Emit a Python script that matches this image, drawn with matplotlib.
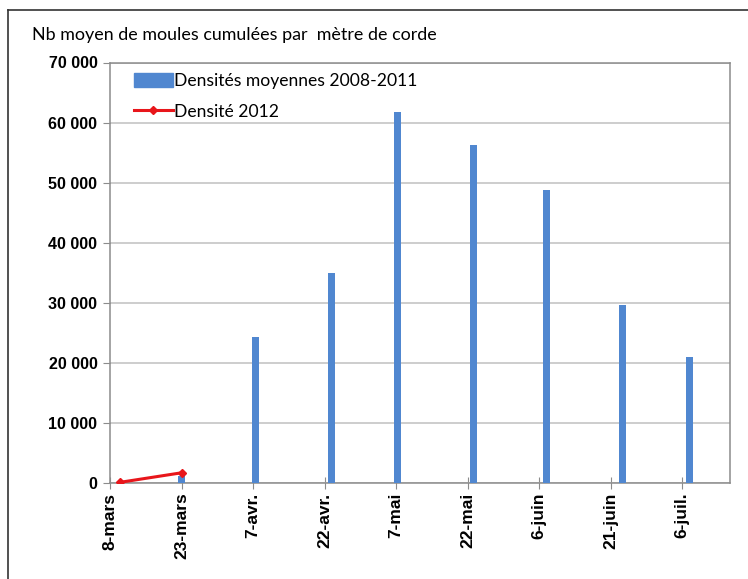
import numpy as np
import matplotlib
matplotlib.use("Agg")
from matplotlib import pyplot as plt
from matplotlib.patches import Patch
from matplotlib.lines import Line2D

# Densités moyennes 2008-2011 (barres)
bar_dates = np.array(['2012-03-23T00', '2012-04-07T12', '2012-04-23T12', '2012-05-07T06',
                      '2012-05-23T06', '2012-06-07T12', '2012-06-23T12', '2012-07-07T12'],
                     dtype='datetime64[h]')
bar_values = [1200, 24300, 34900, 61700, 56300, 48800, 29700, 20900]

# Densité 2012 (ligne)
line_dates = np.array(['2012-03-10', '2012-03-23'], dtype='datetime64[D]')
line_values = [100, 1700]

# axe des x
tick_dates = np.array(['2012-03-08', '2012-03-23', '2012-04-07', '2012-04-22', '2012-05-07',
                       '2012-05-22', '2012-06-06', '2012-06-21', '2012-07-06'],
                      dtype='datetime64[D]')
tick_labels = ['8-mars', '23-mars', '7-avr.', '22-avr.', '7-mai', '22-mai',
               '6-juin', '21-juin', '6-juil.']
y_ticks = [0, 10000, 20000, 30000, 40000, 50000, 60000, 70000]
y_labels = ['0', '10 000', '20 000', '30 000', '40 000', '50 000', '60 000', '70 000']

BLUE = '#5087D0'
RED = '#E8161B'

fig = plt.figure(figsize=(7.48, 5.79), dpi=100)
ax = fig.add_axes([110 / 748, 1 - 483 / 579, 620 / 748, 420.5 / 579])

ax.bar(bar_dates, bar_values, width=1.5, color=BLUE, zorder=3)
ax.plot(line_dates, line_values, color=RED, lw=2.2, marker='D', ms=4.5, zorder=4)

ax.set_xlim(np.datetime64('2012-03-08'), np.datetime64('2012-07-16'))
ax.set_ylim(0, 70000)
ax.set_xticks(tick_dates)
ax.set_xticklabels(tick_labels, rotation=90, fontsize=12.5, fontweight='bold',
                   family='Liberation Sans')
ax.set_yticks(y_ticks)
ax.set_yticklabels(y_labels, fontsize=11.5, fontweight='bold', family='Liberation Sans')

ax.yaxis.grid(True, color='#C0C0C0', lw=1.1, zorder=0)
ax.set_axisbelow(True)
for s in ax.spines.values():
    s.set_color('#8C8C8C')
    s.set_linewidth(1.1)
ax.tick_params(axis='x', direction='inout', length=8, color='#8C8C8C', pad=3)
ax.tick_params(axis='y', direction='out', length=5, color='#8C8C8C', pad=4)

handles = [Patch(facecolor=BLUE, edgecolor=BLUE),
           Line2D([], [], color=RED, lw=2.2, marker='D', ms=4.5)]
ax.legend(handles, ['Densités moyennes 2008-2011', 'Densité 2012'],
          loc='upper left', bbox_to_anchor=(0.022, 1.0), frameon=False,
          prop={'family': 'Lato', 'size': 12.6}, handlelength=2.2,
          handleheight=0.8, handletextpad=0.1, labelspacing=0.85, borderaxespad=0.2)

fig.text(32 / 748, 1 - 35 / 579, 'Nb moyen de moules cumulées par  mètre de corde',
         family='Lato', fontsize=12.9, va='center', ha='left')

# cadre extérieur
fig.add_artist(Line2D([8 / 748, 8 / 748], [0, 1 - 10 / 579], color='#333333', lw=1.2))
fig.add_artist(Line2D([8 / 748, 1], [1 - 10 / 579, 1 - 10 / 579], color='#333333', lw=1.2))

fig.savefig('out.png', dpi=100)
